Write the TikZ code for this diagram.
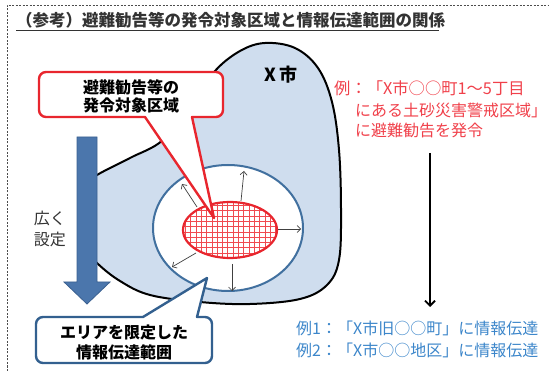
\documentclass[tikz,border=0pt]{standalone}
\usepackage{fontspec}
\setmainfont{Noto Sans CJK JP}
\usetikzlibrary{arrows.meta}
\definecolor{blobfill}{HTML}{CFDDEE}
\definecolor{ringblue}{HTML}{41709F}
\definecolor{arrowblue}{HTML}{4B76AC}
\definecolor{arrowedge}{HTML}{3A6090}
\definecolor{callred}{HTML}{E8262E}
\definecolor{gridred}{HTML}{F04A50}
\definecolor{txtred}{HTML}{F0404A}
\definecolor{txtblue}{HTML}{3C86CA}
\definecolor{callblue}{HTML}{33608F}
\definecolor{titlegray}{HTML}{333333}
\tikzset{
  boldtxt/.style={inner sep=0pt, font=\fontsize{#1}{#1}\selectfont\bfseries},
  plaintxt/.style={inner sep=0pt, font=\fontsize{#1}{#1}\selectfont},
  smallarrow/.style={draw=black!75, line width=0.7pt, -{Straight Barb[length=3.5pt,width=7pt]}},
  gridline/.style={draw=gridred, line width=0.55pt},
}
\begin{document}
\begin{tikzpicture}[x=1pt,y=-1pt]
\useasboundingbox (0,0) rectangle (549,371);
% dashed frame
\draw[black!70, dash pattern=on 2pt off 1.5pt, line width=0.6pt] (7,371) -- (7,5) -- (549,5);
% title
\node[boldtxt=16.5, anchor=west, text=titlegray] (title) at (16,20.5) {（参考）避難勧告等の発令対象区域と情報伝達範囲の関係};
\draw[titlegray, line width=1pt] (16,30.5) -- (439,30.5);
% city blob
\draw[fill=blobfill, line width=2pt] plot[smooth cycle, tension=0.6] coordinates {
 (86,185) (97,175) (130,158) (163,140) (195,102) (215,71) (240,51) (265,43) (295,48) (318,68)
 (332,102) (339,150) (341,210) (339,260) (327,285) (300,299) (250,304) (200,302) (150,295)
 (120,281) (97,263) (86,248)};
% outer ring
\draw[fill=white, draw=ringblue, line width=2pt] (228,228) ellipse [x radius=75, y radius=63];
% red hatched area
\fill[white] (230,230) ellipse [x radius=47, y radius=28];
\begin{scope}
\clip (230,230) ellipse [x radius=47, y radius=28];
\foreach \i in {0,...,20} {\draw[gridline] (180+\i*5.3,195) -- (180+\i*5.3,265);}
\foreach \i in {0,...,14} {\draw[gridline] (175,200+\i*5.3) -- (285,200+\i*5.3);}
\end{scope}
\draw[callred, line width=2.2pt] (230,230) ellipse [x radius=47, y radius=28];
% small arrows
\draw[smallarrow] (197,207) -- (182,184);
\draw[smallarrow] (241,201) -- (244,171);
\draw[smallarrow] (278,229) -- (301,229);
\draw[smallarrow] (196,253) -- (172,267);
\draw[smallarrow] (232,264) -- (232,291);
% big blue arrow
\draw[fill=arrowblue, draw=arrowedge, line width=0.8pt]
  (77,137) -- (97,137) -- (97,282) -- (110,282) -- (87,304) -- (64,282) -- (77,282) -- cycle;
% red callout
\draw[callred, fill=white, line width=2.4pt, line join=round]
  (145,117) [rounded corners=7pt] -- (39,117) -- (39,72) -- (223,72) -- (223,117) [sharp corners] -- (192,117) -- (214,218) -- cycle;
\node[boldtxt=16, text=black] (c1a) at (131,87) {避難勧告等の};
\node[boldtxt=16, text=black] (c1b) at (131,105.5) {発令対象区域};
% blue callout
\draw[callblue, fill=white, line width=2.4pt, line join=round]
  (143,317) [rounded corners=7pt] -- (36,317) -- (36,363) -- (212,363) -- (212,317) [sharp corners] -- (197,317) -- (207,278) -- cycle;
\node[boldtxt=16, text=black] (c2a) at (124,332) {エリアを限定した};
\node[boldtxt=16, text=black] (c2b) at (124,352) {情報伝達範囲};
% labels
\node[boldtxt=18, text=black] (city) at (281,75) {X 市};
\node[plaintxt=16, text=black!80] (wide1) at (50,218) {広く};
\node[plaintxt=16, text=black!80] (wide2) at (50,239) {設定};
\node[plaintxt=16.3, text=txtred, anchor=west] (r1) at (334,88) {例：「X市○○町1～5丁目};
\node[plaintxt=16, text=txtred, anchor=west] (r2) at (355,110) {にある土砂災害警戒区域」};
\node[plaintxt=16, text=txtred, anchor=west] (r3) at (355,130) {に避難勧告を発令};
\node[plaintxt=16, text=txtblue, anchor=west] (b1) at (296,328) {例1：「X市旧○○町」に情報伝達};
\node[plaintxt=16, text=txtblue, anchor=west] (b2) at (296,350) {例2：「X市○○地区」に情報伝達};
% black arrow
\coordinate (ktop) at (430,153);
\coordinate (kbot) at (430,307);
\draw[black, line width=1.8pt, -{Straight Barb[length=5pt,width=10pt]}] (ktop) -- (kbot);
\end{tikzpicture}
\end{document}
